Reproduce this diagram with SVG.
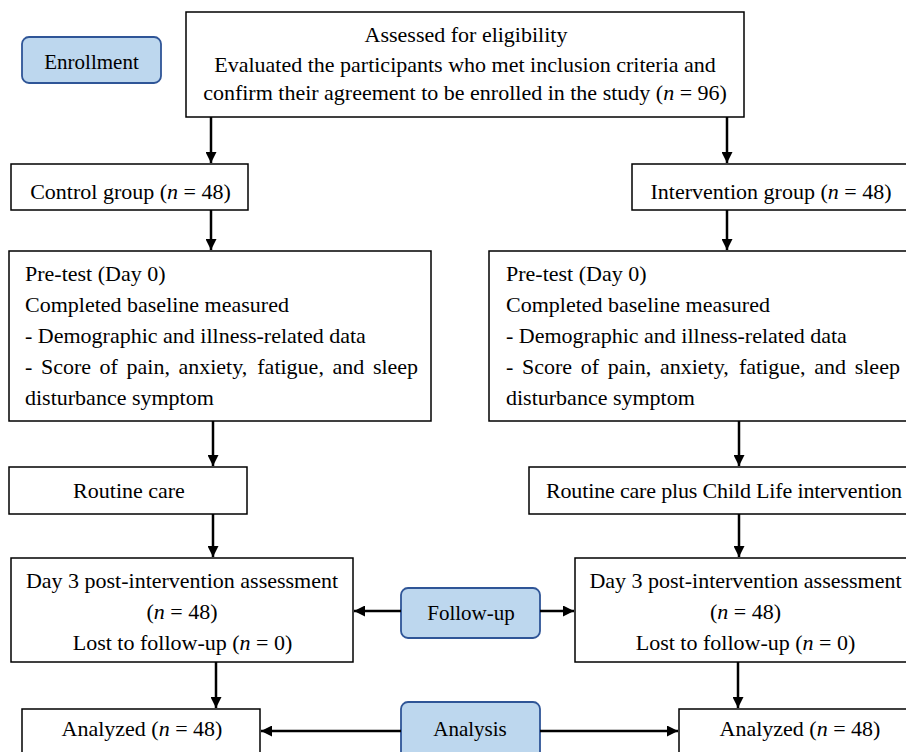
<svg xmlns="http://www.w3.org/2000/svg" width="906" height="752" viewBox="0 0 906 752">
<defs>
<style>
.box{fill:#fff;stroke:#000;stroke-width:1.5}
.lbl{fill:#BDD7EE;stroke:#2F5597;stroke-width:1.8}
text{font-family:"Liberation Serif","Times New Roman",serif;font-size:22px;fill:#000}
.lt{font-size:21px}
.c{text-anchor:middle}
.i{font-style:italic}
.conn line{stroke:#000;stroke-width:2.5;marker-end:url(#ah)}
</style>
<marker id="ah" viewBox="0 0 10 10" refX="10" refY="5" markerWidth="11" markerHeight="11" markerUnits="userSpaceOnUse" orient="auto">
<path d="M0,0 L10,5 L0,10 z" fill="#000"/>
</marker>
</defs>
<rect width="906" height="752" fill="#fff"/>

<g id="enrollment">
<rect class="lbl" x="22" y="37" width="139" height="46" rx="7"/>
<text class="c lt" x="91.5" y="69">Enrollment</text>
</g>

<g id="assessed">
<rect class="box" x="186" y="12" width="558" height="105"/>
<text class="c" x="466" y="42">Assessed for eligibility</text>
<text class="c" x="465" y="72">Evaluated the participants who met inclusion criteria and</text>
<text class="c" x="465" y="100">confirm their agreement to be enrolled in the study (<tspan class="i">n</tspan> = 96)</text>
</g>

<g id="control">
<rect class="box" x="11" y="164" width="237" height="46"/>
<text class="c" x="130.5" y="199">Control group (<tspan class="i">n</tspan> = 48)</text>
</g>

<g id="intervention">
<rect class="box" x="632" y="164" width="280" height="46"/>
<text class="c" x="771" y="199">Intervention group (<tspan class="i">n</tspan> = 48)</text>
</g>

<g id="pretest-control">
<rect class="box" x="9" y="251" width="422" height="170"/>
<text x="25" y="281">Pre-test (Day 0)</text>
<text x="25" y="312">Completed baseline measured</text>
<text x="25" y="343">- Demographic and illness-related data</text>
<text y="374"><tspan x="25">-</tspan><tspan x="40.9">Score</tspan><tspan x="99.6">of</tspan><tspan x="126.5">pain,</tspan><tspan x="178.4">anxiety,</tspan><tspan x="257.3">fatigue,</tspan><tspan x="332.5">and</tspan><tspan x="372.9">sleep</tspan></text>
<text x="25" y="405">disturbance symptom</text>
</g>

<g id="pretest-intervention">
<rect class="box" x="489" y="251" width="425" height="170"/>
<text x="506" y="281">Pre-test (Day 0)</text>
<text x="506" y="312">Completed baseline measured</text>
<text x="506" y="343">- Demographic and illness-related data</text>
<text y="374"><tspan x="506">-</tspan><tspan x="522">Score</tspan><tspan x="580.8">of</tspan><tspan x="607.8">pain,</tspan><tspan x="659.9">anxiety,</tspan><tspan x="738.9">fatigue,</tspan><tspan x="814.2">and</tspan><tspan x="854.7">sleep</tspan></text>
<text x="506" y="405">disturbance symptom</text>
</g>

<g id="routine-care">
<rect class="box" x="9" y="467" width="238" height="47"/>
<text class="c" x="129" y="498">Routine care</text>
</g>

<g id="routine-care-plus">
<rect class="box" x="529" y="467" width="385" height="47"/>
<text x="546" y="498" textLength="356" lengthAdjust="spacing">Routine care plus Child Life intervention</text>
</g>

<g id="day3-control">
<rect class="box" x="11" y="558" width="342" height="104"/>
<text class="c" x="182" y="588">Day 3 post-intervention assessment</text>
<text class="c" x="182" y="619">(<tspan class="i">n</tspan> = 48)</text>
<text class="c" x="182.5" y="650">Lost to follow-up (<tspan class="i">n</tspan> = 0)</text>
</g>

<g id="day3-intervention">
<rect class="box" x="575" y="558" width="340" height="104"/>
<text class="c" x="745.5" y="588">Day 3 post-intervention assessment</text>
<text class="c" x="745.5" y="619">(<tspan class="i">n</tspan> = 48)</text>
<text class="c" x="745.5" y="650">Lost to follow-up (<tspan class="i">n</tspan> = 0)</text>
</g>

<g id="follow-up">
<rect class="lbl" x="401" y="588" width="139" height="50" rx="7"/>
<text class="c lt" x="471" y="620">Follow-up</text>
</g>

<g id="analyzed-control">
<rect class="box" x="22" y="709" width="238" height="60"/>
<text class="c" x="142" y="736">Analyzed (<tspan class="i">n</tspan> = 48)</text>
</g>

<g id="analyzed-intervention">
<rect class="box" x="679" y="709" width="240" height="60"/>
<text class="c" x="800" y="736">Analyzed (<tspan class="i">n</tspan> = 48)</text>
</g>

<g id="analysis">
<rect class="lbl" x="401" y="702" width="139" height="70" rx="7"/>
<text class="c lt" x="470" y="736">Analysis</text>
</g>

<g id="connectors" class="conn">
<line x1="211" y1="117" x2="211" y2="163"/>
<line x1="727" y1="117" x2="727" y2="163"/>
<line x1="211" y1="210" x2="211" y2="250"/>
<line x1="727" y1="210" x2="727" y2="250"/>
<line x1="213" y1="421" x2="213" y2="466"/>
<line x1="739" y1="421" x2="739" y2="466"/>
<line x1="213" y1="514" x2="213" y2="557"/>
<line x1="739" y1="514" x2="739" y2="557"/>
<line x1="216" y1="662" x2="216" y2="708"/>
<line x1="738" y1="662" x2="738" y2="708"/>
<line x1="401" y1="611" x2="354" y2="611"/>
<line x1="540" y1="611" x2="574" y2="611"/>
<line x1="401" y1="731" x2="261" y2="731"/>
<line x1="540" y1="731" x2="678" y2="731"/>
</g>
</svg>
